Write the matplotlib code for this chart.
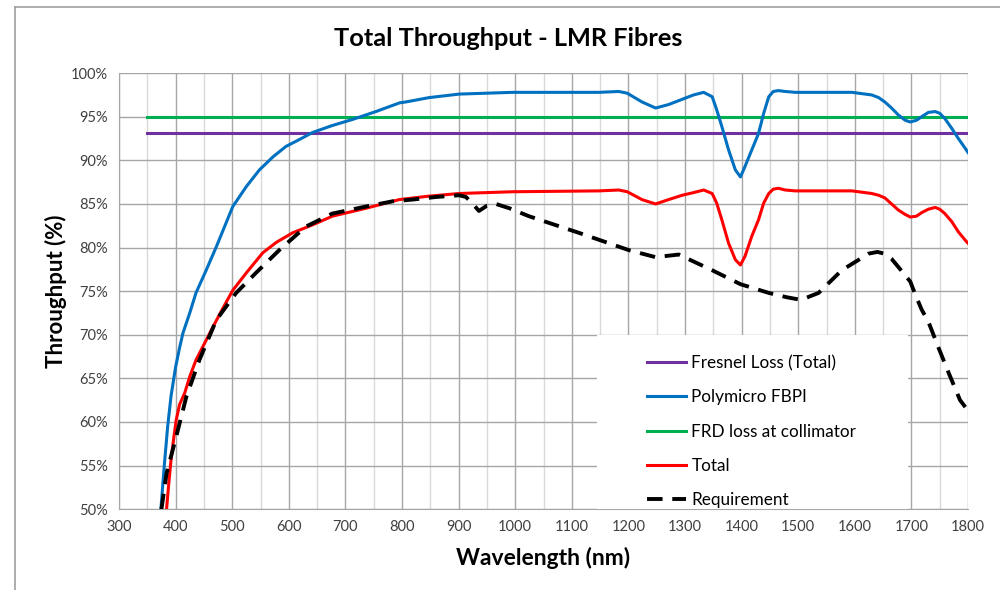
import matplotlib
matplotlib.use("Agg")
import matplotlib.pyplot as plt
from matplotlib.lines import Line2D
from matplotlib.patches import Rectangle
from matplotlib.ticker import FuncFormatter, MultipleLocator

plt.rcParams["font.family"] = ["Lato", "DejaVu Sans"]

# Flat losses (span 350-1800 nm)
flat_wl = [350, 1800]
fresnel = [93.1, 93.1]
frd = [95.0, 95.0]

# Polymicro FBPI fibre throughput
poly_wl = [374, 380, 386, 392, 400, 407, 413, 425, 436, 454, 472, 501, 525, 548, 572, 595,
           619, 642, 677, 713, 754, 796, 807, 848, 901, 995, 1148, 1183, 1198, 1224, 1248,
           1271, 1295, 1315, 1333, 1348, 1356, 1365, 1377, 1389, 1398, 1406, 1418, 1430,
           1439, 1448, 1456, 1465, 1477, 1495, 1595, 1630, 1642, 1653, 1665, 1677, 1689,
           1698, 1709, 1718, 1730, 1742, 1750, 1759, 1771, 1783, 1797, 1800]
poly_val = [50.0, 55.0, 59.5, 63.0, 66.3, 68.5, 70.2, 72.5, 74.8, 77.4, 80.1, 84.7, 87.0,
            88.9, 90.4, 91.6, 92.4, 93.2, 94.0, 94.7, 95.6, 96.6, 96.7, 97.2, 97.6, 97.8,
            97.8, 97.9, 97.7, 96.7, 96.0, 96.4, 97.0, 97.5, 97.8, 97.3, 95.8, 93.9, 91.2,
            88.9, 88.1, 89.3, 91.2, 93.1, 95.4, 97.3, 97.9, 98.0, 97.9, 97.8, 97.8, 97.5,
            97.2, 96.7, 96.0, 95.2, 94.6, 94.4, 94.6, 95.0, 95.5, 95.6, 95.4, 94.8, 93.7,
            92.5, 91.2, 90.9]

# Total throughput
total_wl = [384, 388, 392, 397, 401, 407, 416, 425, 436, 451, 466, 484, 501, 525, 554, 578,
            607, 642, 677, 736, 795, 848, 901, 995, 1148, 1183, 1198, 1224, 1248, 1271,
            1295, 1315, 1333, 1348, 1356, 1365, 1377, 1389, 1398, 1406, 1418, 1430, 1439,
            1448, 1456, 1465, 1477, 1495, 1595, 1630, 1642, 1653, 1665, 1677, 1689, 1698,
            1709, 1718, 1730, 1742, 1750, 1759, 1771, 1783, 1797, 1800]
total_val = [50.0, 53.0, 55.7, 58.3, 60.2, 62.0, 63.3, 65.2, 67.1, 69.0, 70.9, 73.1, 75.1,
             77.1, 79.4, 80.6, 81.7, 82.6, 83.6, 84.5, 85.5, 85.9, 86.2, 86.4, 86.5, 86.6,
             86.4, 85.5, 85.0, 85.5, 86.0, 86.3, 86.6, 86.2, 85.1, 83.2, 80.5, 78.6, 78.0,
             79.0, 81.3, 83.2, 85.1, 86.2, 86.7, 86.8, 86.6, 86.5, 86.5, 86.2, 86.0, 85.7,
             85.0, 84.3, 83.8, 83.5, 83.6, 84.0, 84.4, 84.6, 84.4, 83.9, 83.0, 81.8, 80.7,
             80.5]

# Requirement
req_wl = [375, 384, 401, 419, 442, 472, 507, 542, 583, 630, 677, 736, 783, 818, 860, 901,
          913, 925, 936, 950, 966, 990, 1024, 1112, 1201, 1248, 1289, 1348, 1398, 1448,
          1480, 1505, 1536, 1577, 1607, 1624, 1640, 1652, 1665, 1683, 1698, 1707, 1718,
          1730, 1748, 1766, 1786, 1800]
req_val = [50.0, 54.1, 58.3, 62.9, 67.1, 71.7, 74.8, 77.1, 79.7, 82.4, 83.9, 84.7, 85.3,
           85.5, 85.8, 86.0, 85.8, 85.0, 84.2, 84.8, 85.0, 84.5, 83.6, 81.7, 79.7, 78.9,
           79.2, 77.4, 75.8, 74.8, 74.3, 74.0, 74.8, 77.4, 78.6, 79.3, 79.5, 79.3, 78.7,
           77.3, 76.1, 74.6, 72.9, 71.5, 68.5, 65.6, 62.5, 61.3]

fig = plt.figure(figsize=(10, 5.9), dpi=100)
ax = fig.add_axes([0.119, 0.137, 0.849, 0.739])

lw = 2.2
ax.plot(flat_wl, fresnel, color="#7030a0", lw=lw, label="Fresnel Loss (Total)", zorder=3)
ax.plot(poly_wl, poly_val, color="#0070c0", lw=lw, label="Polymicro FBPI", zorder=4)
ax.plot(flat_wl, frd, color="#00b050", lw=lw, label="FRD loss at collimator", zorder=3)
ax.plot(total_wl, total_val, color="#ff0000", lw=lw, label="Total", zorder=4)
ax.plot(req_wl, req_val, color="black", lw=2.8, ls=(0, (4, 2.5)), label="Requirement",
        zorder=5)

ax.set_xlim(300, 1800)
ax.set_ylim(50, 100)
ax.xaxis.set_major_locator(MultipleLocator(100))
ax.xaxis.set_minor_locator(MultipleLocator(50))
ax.yaxis.set_major_locator(MultipleLocator(5))
ax.yaxis.set_major_formatter(FuncFormatter(lambda v, p: f"{v:.0f}%"))
ax.grid(which="major", color="#a6a6a6", lw=1.0, zorder=0)
ax.grid(which="minor", axis="x", color="#d9d9d9", lw=1.0, zorder=0)
ax.set_axisbelow(True)
ax.tick_params(which="both", length=0, labelsize=10.5, colors="#404040", pad=8)
for s in ["top", "right"]:
    ax.spines[s].set_visible(False)
for s in ["left", "bottom"]:
    ax.spines[s].set_color("#a6a6a6")

ax.set_xlabel("Wavelength (nm)", fontsize=16.5, fontweight="bold", labelpad=9)
ax.set_ylabel("Throughput (%)", fontsize=16, fontweight="bold", labelpad=3)
fig.text(0.508, 0.935, "Total Throughput - LMR Fibres", ha="center", va="center",
         fontsize=18.3, fontweight="bold")

# white legend area covering the grid
ax.add_patch(Rectangle((0.563, 0.0), 0.366, 0.40, transform=ax.transAxes,
                       facecolor="white", edgecolor="none", zorder=9))
leg = ax.legend(loc="upper left", bbox_to_anchor=(0.622, 0.354), frameon=False,
                fontsize=12.3, handlelength=2.3, labelspacing=1.07, borderpad=0,
                handletextpad=0.3, borderaxespad=0)
leg.set_zorder(10)

# outer chart frame
fig.add_artist(Line2D([0.015, 0.015], [0, 1 - 7 / 590], color="#a0a0a0", lw=1.2))
fig.add_artist(Line2D([0.015, 1], [1 - 7 / 590, 1 - 7 / 590], color="#a0a0a0", lw=1.2))

fig.savefig("out.png", dpi=100)
